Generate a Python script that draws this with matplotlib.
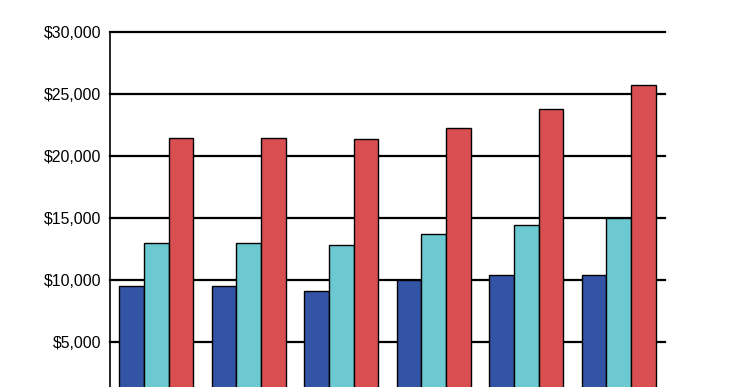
import numpy as np
import matplotlib.pyplot as plt
from matplotlib.ticker import FuncFormatter

categories = ['1', '2', '3', '4', '5', '6']
series_a = [9480, 9540, 9150, 9970, 10370, 10430]
series_b = [12960, 12980, 12800, 13680, 14440, 14970]
series_c = [21450, 21440, 21360, 22290, 23760, 25700]
colors = ['#3353A5', '#6CC9D1', '#D94E50']


def money(v, pos):
    return f'${v:,.0f}'


fig = plt.figure(figsize=(7.45, 3.87), dpi=100)
# the reference is cropped: the zero line sits just below the picture
ax = fig.add_axes([110 / 745, 1 - 404 / 387, 555 / 745, 372 / 387])

x = np.arange(len(categories))
w = 0.8 / 3
for i, vals in enumerate([series_a, series_b, series_c]):
    ax.bar(x + (i - 1) * w, vals, width=w, color=colors[i],
           edgecolor='black', linewidth=1.0, zorder=3)

ax.set_xlim(-0.5, len(categories) - 0.5)
ax.set_ylim(0, 30000)
ax.set_yticks(range(5000, 30001, 5000))
ax.yaxis.set_major_formatter(FuncFormatter(money))
ax.yaxis.grid(True, color='black', linewidth=1.6, zorder=0)
ax.set_axisbelow(True)
for gl in ax.get_ygridlines():
    gl.set_clip_on(False)

for s in ['top', 'right', 'bottom']:
    ax.spines[s].set_visible(False)
ax.spines['left'].set_linewidth(1.2)

ax.set_xticks(x)
ax.tick_params(axis='x', length=0, labelbottom=False)
ax.tick_params(axis='y', length=0, pad=6.5, labelsize=11.4)
for t in ax.get_yticklabels():
    t.set_fontfamily(['Liberation Sans', 'DejaVu Sans'])

fig.savefig('out.png', dpi=100)
